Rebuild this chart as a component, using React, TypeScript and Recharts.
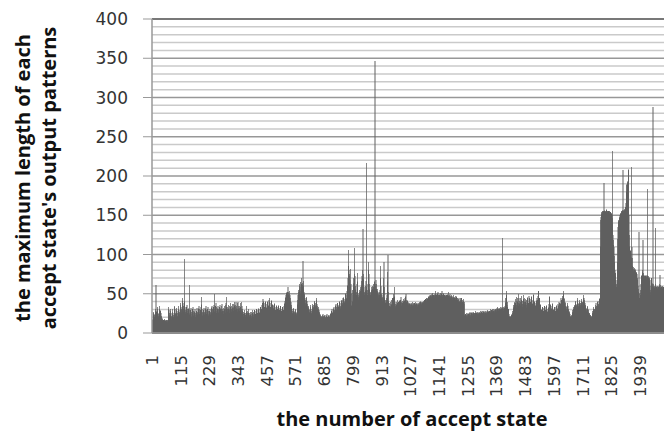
import { BarChart, Bar, XAxis, YAxis, CartesianGrid, ReferenceLine } from "recharts";

// maximum output-pattern length per accept state (states 1..2033)
const SEG_A = [
  14, 17, 15, 16, 25, 22, 27, 24, 20, 18, 23, 21, 28, 26, 30, 61, 24, 27, 22, 25,
  33, 28, 31, 26, 22, 19, 24, 21, 30, 27, 34, 29, 25, 28, 23, 26, 20, 17, 22, 19,
  18, 15, 17, 16, 14, 16, 15, 13, 17, 15, 18, 16, 14, 15, 13, 16, 17, 14, 15, 16,
  15, 13, 16, 14, 31, 27, 33, 29, 22, 20, 25, 23, 28, 24, 30, 26, 20, 17, 22, 19,
  27, 24, 30, 26, 21, 19, 23, 20, 33, 29, 35, 31, 24, 21, 26, 23, 29, 25, 32, 28,
  22, 20, 25, 21, 30, 27, 34, 29, 24, 22, 27, 25, 36, 31, 38, 33, 29, 26, 31, 28,
  41, 35, 45, 38, 30, 27, 34, 31, 94, 40, 37, 33, 27, 24, 29, 26, 33, 29, 36, 31,
  25, 22, 28, 24, 31, 27, 29, 61, 23, 20, 25, 22, 29, 26, 32, 27, 21, 19, 24, 20,
  30, 26, 33, 28, 22, 20, 25, 21, 27, 24, 31, 26, 20, 18, 23, 19, 28, 25, 32, 27,
  23, 21, 26, 22, 31, 27, 35, 30, 24, 21, 27, 23, 29, 26, 33, 28, 36, 46, 31, 27,
];
const SEG_B = [
  22, 20, 25, 21, 29, 26, 32, 27, 23, 21, 26, 22, 31, 28, 34, 29, 24, 22, 27, 23,
  30, 27, 33, 28, 22, 20, 24, 21, 28, 25, 31, 27, 23, 21, 26, 22, 32, 28, 35, 30,
  26, 23, 29, 25, 33, 29, 36, 50, 27, 24, 30, 26, 34, 30, 38, 33, 25, 23, 28, 24,
  31, 28, 35, 30, 26, 23, 29, 25, 33, 29, 36, 31, 28, 25, 30, 27, 35, 37, 31, 28,
  25, 22, 28, 24, 32, 28, 35, 30, 27, 24, 30, 26, 36, 38, 46, 33, 28, 25, 31, 27,
  33, 30, 36, 31, 26, 23, 29, 25, 35, 31, 38, 33, 28, 25, 31, 27, 34, 30, 37, 32,
  29, 26, 32, 28, 37, 33, 39, 35, 30, 27, 33, 29, 36, 39, 34, 31, 28, 25, 31, 27,
  38, 40, 35, 31, 29, 26, 32, 28, 35, 31, 38, 33, 27, 24, 30, 26, 40, 35, 31, 28,
  22, 20, 24, 21, 27, 24, 29, 25, 21, 19, 23, 20, 26, 23, 35, 27, 22, 20, 25, 21,
  28, 25, 30, 26, 21, 19, 23, 20, 25, 22, 27, 23, 20, 18, 22, 19, 27, 24, 29, 25,
];
const SEG_C = [
  21, 19, 23, 20, 27, 24, 29, 25, 22, 20, 24, 21, 28, 25, 30, 26, 23, 21, 25, 22,
  29, 26, 31, 27, 24, 22, 26, 23, 31, 28, 33, 29, 27, 25, 30, 26, 36, 32, 38, 34,
  43, 37, 40, 34, 30, 27, 33, 29, 38, 34, 40, 36, 29, 27, 32, 28, 37, 33, 40, 35,
  32, 29, 35, 31, 42, 45, 39, 35, 30, 27, 33, 29, 38, 34, 41, 36, 33, 30, 36, 32,
  36, 32, 30, 27, 34, 30, 37, 32, 27, 25, 29, 26, 33, 29, 35, 31, 28, 25, 30, 26,
  33, 30, 35, 31, 27, 25, 29, 26, 32, 29, 34, 30, 26, 24, 28, 25, 31, 28, 33, 29,
  27, 25, 29, 26, 34, 31, 37, 33, 41, 37, 45, 40, 48, 43, 51, 46, 44, 40, 52, 47,
  58, 52, 49, 45, 50, 46, 53, 48, 41, 37, 44, 39, 33, 30, 36, 31, 26, 24, 28, 25,
  30, 27, 32, 28, 25, 23, 27, 24, 29, 26, 31, 27, 24, 22, 26, 23, 33, 36, 42, 48,
  55, 49, 52, 46, 62, 56, 60, 54, 50, 46, 65, 58, 70, 62, 58, 53, 64, 58, 61, 92,
];
const SEG_D = [
  66, 55, 60, 52, 48, 44, 50, 45, 38, 35, 42, 37, 44, 40, 46, 41, 34, 31, 37, 33,
  32, 29, 35, 31, 27, 25, 29, 26, 33, 30, 36, 31, 26, 24, 28, 25, 34, 31, 37, 32,
  33, 30, 36, 32, 41, 37, 40, 36, 35, 32, 38, 33, 44, 39, 42, 37, 32, 29, 35, 31,
  31, 28, 33, 29, 25, 23, 27, 24, 22, 20, 23, 21, 20, 19, 22, 20, 23, 21, 24, 22,
  20, 18, 21, 19, 22, 20, 23, 21, 19, 18, 21, 19, 22, 20, 24, 21, 20, 18, 21, 19,
  22, 20, 23, 21, 20, 19, 22, 20, 24, 22, 25, 23, 28, 25, 30, 26, 25, 23, 27, 24,
  31, 28, 33, 29, 27, 25, 29, 26, 35, 31, 37, 33, 29, 26, 31, 28, 38, 34, 36, 32,
  33, 30, 35, 31, 40, 36, 38, 34, 31, 28, 33, 29, 41, 37, 42, 38, 36, 33, 44, 39,
  45, 40, 43, 39, 38, 35, 41, 37, 50, 45, 48, 44, 43, 40, 53, 47, 60, 55, 70, 78,
  85, 106, 80, 72, 65, 75, 68, 82, 60, 55, 62, 50, 35, 28, 20, 26, 40, 55, 48, 62,
];
const SEG_E = [
  58, 70, 64, 75, 68, 108, 72, 60, 55, 50, 45, 52, 48, 62, 77, 65, 58, 50, 46, 42,
  48, 44, 52, 47, 55, 50, 59, 53, 48, 56, 51, 60, 66, 72, 64, 70, 80, 132, 75, 68,
  62, 58, 52, 48, 44, 50, 46, 54, 60, 66, 216, 58, 52, 47, 42, 48, 55, 62, 70, 80,
  91, 75, 62, 55, 50, 46, 52, 48, 44, 50, 55, 52, 58, 54, 60, 56, 52, 58, 62, 55,
  58, 54, 60, 65, 58, 347, 62, 56, 60, 68, 62, 56, 52, 48, 54, 50, 56, 52, 48, 45,
  50, 47, 52, 48, 44, 55, 62, 70, 85, 60, 50, 44, 48, 42, 46, 40, 44, 48, 52, 60,
  70, 91, 58, 45, 40, 36, 42, 38, 35, 40, 44, 38, 42, 48, 55, 65, 78, 99, 52, 40,
  36, 32, 38, 34, 30, 35, 40, 33, 37, 42, 36, 31, 35, 39, 44, 38, 34, 40, 45, 50,
  42, 38, 46, 58, 40, 35, 32, 37, 33, 30, 36, 40, 34, 31, 38, 42, 36, 33, 39, 35,
  31, 37, 41, 35, 32, 38, 42, 40, 46, 38, 34, 39, 36, 33, 38, 41, 37, 34, 40, 43,
];
const SEG_F = [
  38, 35, 41, 37, 44, 40, 46, 42, 50, 40, 38, 42, 39, 36, 41, 38, 40, 37, 35, 38,
  36, 34, 37, 35, 38, 36, 33, 37, 35, 38, 36, 34, 37, 39, 35, 33, 36, 38, 35, 37,
  34, 36, 38, 35, 37, 34, 36, 39, 36, 34, 37, 35, 38, 36, 33, 37, 35, 38, 36, 34,
  37, 39, 36, 38, 35, 37, 40, 37, 35, 38, 36, 39, 37, 40, 38, 36, 39, 41, 38, 40,
  37, 39, 42, 38, 40, 43, 39, 41, 44, 40, 42, 45, 41, 43, 40, 44, 42, 46, 43, 45,
  47, 44, 46, 48, 45, 47, 49, 46, 48, 45, 47, 50, 46, 48, 51, 47, 45, 48, 46, 49,
  47, 45, 48, 50, 46, 49, 53, 48, 46, 49, 47, 45, 48, 50, 47, 52, 49, 46, 48, 45,
  47, 49, 46, 48, 51, 47, 45, 48, 46, 50, 48, 53, 49, 46, 48, 45, 47, 50, 47, 49,
  46, 48, 45, 47, 49, 46, 44, 47, 45, 48, 46, 43, 47, 49, 45, 48, 52, 47, 44, 46,
  48, 45, 47, 50, 46, 44, 47, 45, 49, 46, 43, 47, 45, 42, 46, 44, 48, 45, 42, 46,
];
const SEG_G = [
  43, 45, 41, 44, 47, 42, 45, 40, 43, 46, 41, 44, 38, 42, 45, 40, 43, 39, 42, 45,
  40, 37, 41, 44, 39, 42, 38, 41, 44, 40, 37, 42, 39, 36, 40, 43, 38, 41, 37, 40,
  22, 20, 23, 21, 24, 22, 20, 23, 21, 25, 22, 24, 21, 23, 26, 22, 24, 21, 23, 25,
  22, 24, 27, 23, 21, 25, 22, 24, 26, 23, 21, 24, 22, 25, 27, 23, 26, 24, 22, 25,
  23, 26, 24, 22, 25, 28, 24, 22, 26, 23, 25, 27, 24, 22, 26, 24, 23, 25, 27, 24,
  26, 23, 25, 28, 24, 26, 23, 25, 27, 24, 26, 28, 25, 23, 26, 24, 27, 25, 28, 26,
  24, 27, 25, 23, 26, 28, 25, 27, 24, 26, 28, 25, 27, 29, 26, 24, 27, 25, 28, 26,
  28, 25, 27, 30, 26, 28, 25, 27, 29, 26, 28, 30, 27, 29, 26, 28, 31, 27, 29, 26,
  28, 30, 27, 29, 31, 28, 30, 27, 29, 32, 28, 30, 33, 29, 31, 28, 30, 32, 29, 31,
  28, 30, 33, 29, 31, 28, 32, 30, 29, 33, 121, 31, 29, 32, 30, 28, 33, 31, 29, 32,
];
const SEG_H = [
  30, 34, 31, 38, 45, 40, 53, 48, 42, 36, 40, 33, 30, 28, 26, 30, 27, 24, 22, 20,
  21, 19, 22, 20, 18, 21, 19, 23, 20, 22, 25, 23, 28, 26, 32, 30, 36, 33, 38, 35,
  40, 36, 43, 38, 33, 30, 36, 32, 46, 41, 44, 39, 35, 32, 38, 34, 50, 44, 41, 37,
  36, 33, 39, 35, 44, 40, 47, 42, 34, 31, 37, 33, 41, 37, 48, 43, 38, 35, 40, 36,
  45, 40, 43, 39, 33, 30, 36, 32, 42, 38, 45, 40, 35, 32, 38, 34, 47, 42, 44, 40,
  36, 33, 39, 35, 43, 39, 46, 41, 34, 31, 37, 33, 42, 38, 49, 44, 37, 34, 40, 36,
  32, 29, 35, 31, 38, 35, 41, 37, 44, 40, 42, 38, 47, 43, 53, 48, 41, 38, 44, 40,
  33, 30, 36, 32, 27, 25, 29, 26, 31, 28, 33, 29, 26, 24, 28, 25, 32, 29, 34, 30,
  27, 25, 29, 26, 33, 30, 35, 31, 25, 23, 27, 24, 30, 27, 32, 28, 37, 40, 46, 38,
  34, 31, 36, 32, 29, 27, 31, 28, 35, 32, 37, 33, 27, 25, 29, 26, 31, 28, 33, 29,
];
const SEG_I = [
  26, 24, 28, 25, 33, 30, 35, 31, 29, 27, 31, 28, 37, 33, 35, 32, 40, 36, 38, 34,
  35, 32, 37, 33, 44, 40, 42, 38, 47, 43, 45, 41, 53, 48, 50, 45, 40, 37, 43, 39,
  35, 32, 38, 34, 31, 28, 33, 29, 36, 33, 38, 34, 29, 27, 31, 28, 25, 23, 27, 24,
  22, 20, 21, 19, 23, 21, 22, 20, 27, 25, 29, 26, 33, 30, 31, 28, 36, 33, 35, 32,
  39, 36, 41, 37, 34, 31, 36, 32, 44, 40, 42, 38, 35, 32, 37, 33, 40, 37, 42, 38,
  36, 33, 38, 34, 41, 37, 43, 39, 38, 35, 40, 36, 45, 41, 48, 44, 40, 37, 42, 38,
  34, 31, 36, 32, 29, 27, 31, 28, 33, 30, 35, 31, 27, 25, 29, 26, 24, 22, 26, 23,
  22, 20, 23, 21, 21, 19, 22, 20, 26, 24, 28, 25, 31, 28, 33, 30, 29, 27, 31, 28,
  36, 33, 38, 34, 32, 29, 34, 31, 39, 36, 41, 37, 35, 32, 37, 34, 43, 39, 45, 60,
  110, 144, 148, 152, 150, 154, 153, 155, 151, 154, 156, 153, 155, 152, 191, 154, 156, 153, 155, 152,
];
const SEG_J = [
  154, 156, 153, 155, 157, 154, 152, 155, 153, 156, 154, 152, 155, 153, 156, 154, 151, 155, 153, 150,
  154, 152, 149, 153, 151, 148, 150, 146, 140, 232, 125, 118, 112, 108, 110, 98, 90, 85, 80, 76,
  72, 76, 68, 62, 58, 55, 53, 56, 90, 120, 135, 140, 142, 144, 143, 145, 146, 148, 150, 151,
  152, 150, 153, 155, 152, 154, 156, 153, 155, 157, 208, 156, 154, 157, 155, 158, 156, 157, 155, 158,
  160, 158, 165, 172, 180, 188, 190, 192, 189, 191, 193, 190, 208, 188, 150, 125, 110, 95, 100, 105,
  98, 92, 212, 96, 90, 110, 95, 85, 82, 80, 84, 78, 81, 79, 83, 80, 77, 82, 79, 76,
  80, 78, 74, 77, 72, 75, 70, 68, 64, 60, 56, 52, 48, 129, 50, 44, 40, 38, 42, 48,
  55, 62, 68, 72, 70, 74, 78, 75, 80, 118, 76, 73, 70, 74, 72, 69, 73, 71, 68, 72,
  70, 74, 71, 68, 72, 70, 184, 73, 71, 68, 72, 70, 67, 71, 69, 66, 70, 68, 55, 48,
  52, 60, 66, 70, 68, 64, 62, 58, 60, 288, 62, 59, 56, 58, 55, 57, 60, 58, 62, 59,
  134, 58, 56, 59, 55, 57, 60, 56, 58, 54, 57, 59, 55, 58, 56, 60, 62, 74, 61, 57,
  55, 58, 56, 59, 57, 54, 58, 56, 60, 57, 55, 58, 56,
];

// y axis: every 10 gets a grid line, every 50 a label
const Y_TICKS = [
  0, 10, 20, 30, 40, 50, 60, 70, 80, 90, 100, 110, 120, 130, 140, 150, 160, 170, 180, 190, 200,
  210, 220, 230, 240, 250, 260, 270, 280, 290, 300, 310, 320, 330, 340, 350, 360, 370, 380, 390, 400,
];
const LABEL_STEP = 50;

const VALUES = [
  ...SEG_A, ...SEG_B, ...SEG_C, ...SEG_D, ...SEG_E,
  ...SEG_F, ...SEG_G, ...SEG_H, ...SEG_I, ...SEG_J,
];
const data = VALUES.map((v, i) => ({ state: i + 1, len: v }));

const TICK_FONT = "DejaVu Sans";
const TITLE_FONT = "Open Sans";

const XTick = ({ x, y, payload }: any) => (
  <text
    x={x}
    y={y + 14}
    transform={`rotate(-90 ${x} ${y + 14})`}
    textAnchor="end"
    dy="0.35em"
    fontFamily={TICK_FONT}
    fontSize={16.5}
    fill="#333"
  >
    {payload.value}
  </text>
);

const YTick = ({ y, payload }: any) => {
  if (payload.value % LABEL_STEP !== 0) return <g />;
  return (
    <g>
      <line x1={143} x2={152} y1={y} y2={y} stroke="#999" />
      <text x={128} y={y} dy="0.36em" textAnchor="end" fontFamily={TICK_FONT} fontSize={17} fill="#333">
        {payload.value}
      </text>
    </g>
  );
};

const GridLine = (p: any) => {
  const v = Y_TICKS[p.index];
  const major = v % LABEL_STEP === 0;
  return (
    <line
      key={p.key}
      x1={p.x1}
      x2={p.x2}
      y1={p.y1}
      y2={p.y2}
      stroke={major ? "#979797" : "#cacaca"}
      strokeWidth={1.5}
    />
  );
};

const XTitle = () => (
  <text x={412} y={426} textAnchor="middle" fontFamily={TITLE_FONT} fontWeight="bold" fontSize={20} fill="#111">
    the number of accept state
  </text>
);

const YTitle = () => (
  <text transform="rotate(-90)" textAnchor="middle" fontFamily={TITLE_FONT} fontWeight="bold" fontSize={20} fill="#111">
    <tspan x={-178} y={30}>the maximum length of each</tspan>
    <tspan x={-178} y={56}>accept state's output patterns</tspan>
  </text>
);

export default function App() {
  return (
    <div>
      <style>{`body{margin:0}`}</style>
      <BarChart
        width={664}
        height={432}
        data={data}
        margin={{ top: 19, right: 0, bottom: 0, left: 0 }}
        barCategoryGap={0}
        barGap={0}
      >
        <CartesianGrid vertical={false} horizontal={GridLine} />
        <XAxis
          dataKey="state"
          interval={113}
          height={99}
          tickLine={false}
          axisLine={{ stroke: "#8c8c8c", strokeWidth: 2 }}
          tick={<XTick />}
          label={{ content: <XTitle /> }}
        />
        <YAxis
          domain={[0, 400]}
          ticks={Y_TICKS}
          interval={0}
          width={152}
          tickLine={false}
          axisLine={{ stroke: "#999", strokeWidth: 1.5 }}
          tick={<YTick />}
          label={{ content: <YTitle /> }}
        />
        <ReferenceLine y={400} stroke="#666" strokeWidth={1.5} />
        <Bar
          dataKey="len"
          fill="#5f5f5f"
          stroke="#5f5f5f"
          strokeWidth={0.5}
          shapeRendering="crispEdges"
          isAnimationActive={false}
        />
      </BarChart>
    </div>
  );
}
